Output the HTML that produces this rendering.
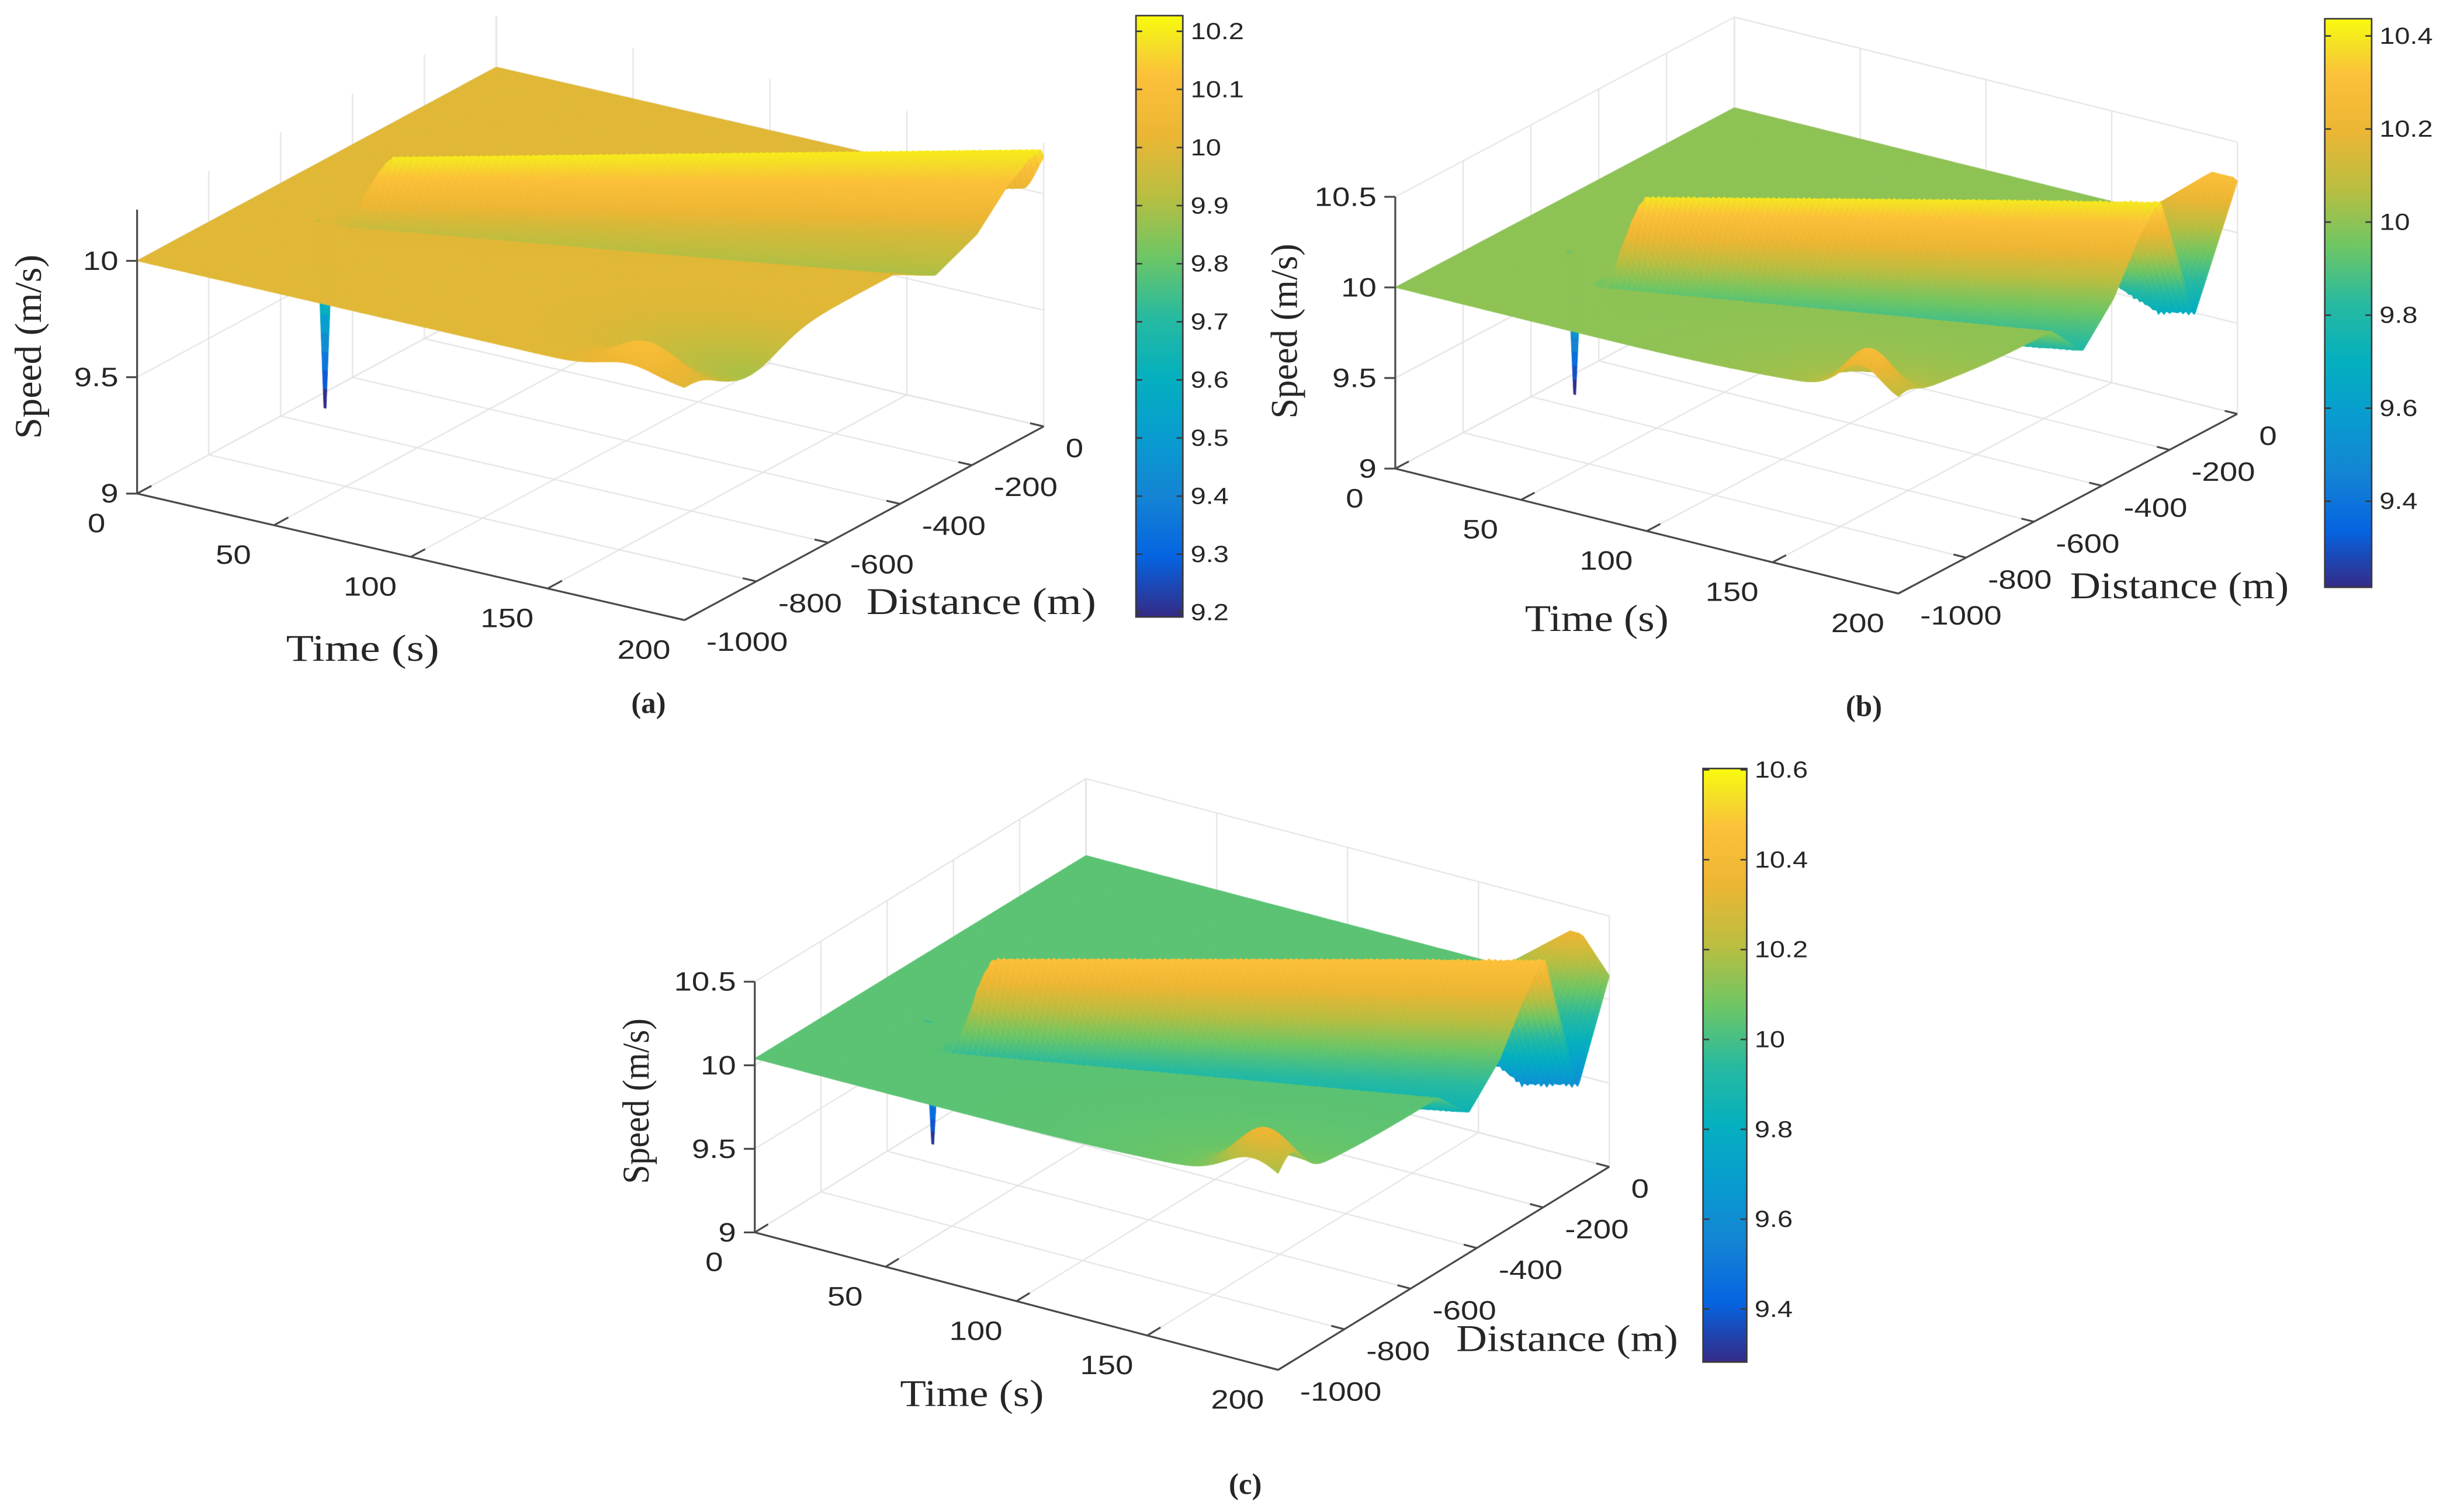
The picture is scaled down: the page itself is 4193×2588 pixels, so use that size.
<!DOCTYPE html>
<html><head><meta charset="utf-8">
<style>
html,body{margin:0;padding:0;background:#fff;}
#wrap{position:relative;width:4193px;height:2588px;overflow:hidden;background:#fff;}
canvas,svg{position:absolute;left:0;top:0;}
text{fill:#262626;}
.tick{font-family:"Liberation Sans",sans-serif;font-size:17px;}
.cbt{font-family:"Liberation Sans",sans-serif;font-size:15px;}
.title{font-family:"Liberation Serif",serif;font-size:24px;}
.cap{font-family:"Liberation Serif",serif;font-size:19px;font-weight:bold;}
</style></head>
<body>
<div id="wrap">
<canvas id="cv" width="4193" height="2588"></canvas>
<svg id="ov" width="4193" height="2588" viewBox="0 0 1568 968" xmlns="http://www.w3.org/2000/svg">
  <g id="static-text">
    <text class="title" x="0" y="0" text-anchor="middle" dominant-baseline="central" transform="translate(18,222) rotate(-90)" textLength="118" lengthAdjust="spacingAndGlyphs">Speed (m/s)</text>
    <text class="title" x="232" y="415" text-anchor="middle" dominant-baseline="central" textLength="98" lengthAdjust="spacingAndGlyphs">Time (s)</text>
    <text class="title" x="628" y="385" text-anchor="middle" dominant-baseline="central" textLength="147" lengthAdjust="spacingAndGlyphs">Distance (m)</text>
    <text class="cap" x="415" y="450" text-anchor="middle" dominant-baseline="central">(a)</text>

    <text class="title" x="0" y="0" text-anchor="middle" dominant-baseline="central" transform="translate(822,212) rotate(-90)" textLength="112" lengthAdjust="spacingAndGlyphs">Speed (m/s)</text>
    <text class="title" x="1022" y="396" text-anchor="middle" dominant-baseline="central" textLength="92" lengthAdjust="spacingAndGlyphs">Time (s)</text>
    <text class="title" x="1395" y="375" text-anchor="middle" dominant-baseline="central" textLength="140" lengthAdjust="spacingAndGlyphs">Distance (m)</text>
    <text class="cap" x="1193" y="452" text-anchor="middle" dominant-baseline="central">(b)</text>

    <text class="title" x="0" y="0" text-anchor="middle" dominant-baseline="central" transform="translate(407,705) rotate(-90)" textLength="106" lengthAdjust="spacingAndGlyphs">Speed (m/s)</text>
    <text class="title" x="622" y="892" text-anchor="middle" dominant-baseline="central" textLength="92" lengthAdjust="spacingAndGlyphs">Time (s)</text>
    <text class="title" x="1003" y="857" text-anchor="middle" dominant-baseline="central" textLength="142" lengthAdjust="spacingAndGlyphs">Distance (m)</text>
    <text class="cap" x="797" y="950" text-anchor="middle" dominant-baseline="central">(c)</text>
  </g>
</svg>
</div>
<script>
// ---------- data ----------
const timeTicks = [0, 50, 100, 150, 200];
const distTicks = [-1000, -800, -600, -400, -200, 0];
const zTicksA = [9, 9.5, 10];
const zTicksBC = [9, 9.5, 10, 10.5];
const cbTicksA = [9.2, 9.3, 9.4, 9.5, 9.6, 9.7, 9.8, 9.9, 10, 10.1, 10.2];
const cbTicksB = [9.4, 9.6, 9.8, 10, 10.2, 10.4];
const cbTicksC = [9.4, 9.6, 9.8, 10, 10.2, 10.4, 10.6];
const climA = [9.192, 10.227];
const climB = [9.215, 10.437];
const climC = [9.282, 10.603];

// surface parameters (per panel a, b, c)
const baseSpeed = [10.0, 10.0, 10.04];
const ridgeStartT = [32, 52, 46];
const ridgeStartD = [-600, -715, -712];
const ridgeSpeed = [3.5, 3.3, 3.36];
const ridgeWidth0 = [80, 70, 70];
const ridgeWidth1 = [290, 230, 230];
const frontS = [-1.4, -1.0, -0.6, -0.3, -0.08, 0];
const frontDZa = [0, -0.1, -0.02, 0.12, 0.19, 0.2];
const frontDZb = [0, -0.2, 0.0, 0.25, 0.38, 0.4];
const frontDZc = [0, -0.2, 0.0, 0.26, 0.42, 0.44];
const behindS = [0, 20, 100, 230, 400];
const behindDZb = [0.4, 0.25, -0.33, 0.3, 0.3];
const behindDZc = [0.44, 0.25, -0.45, 0.31, 0.31];
const behindStartT = [1e9, 165, 160];
const blobTa = [200, 180], blobDa = [-820, -955], blobSTa = [25, 10], blobSDa = [80, 35], blobAmpA = [-0.1, 0.12];
const blobTb = [185, 200], blobDb = [-975, -1000], blobSTb = [8, 40], blobSDb = [30, 150], blobAmpB = [0.22, 0.06];
const blobTc = [190, 200], blobDc = [-960, -1000], blobSTc = [10, 40], blobSDc = [35, 150], blobAmpC = [0.27, 0.05];
const spikeT = [29.6, 31, 31.7];
const spikeD = [-702, -701, -713];
const spikeMin = [9.2, 9.22, 9.31];

// ---------- layout ----------
const panels = [
  {O:[87.6,316], T:[1.752,0.405], D:[0.230,-0.124], Zs:149, zmax:10.22, clim:climA, cb:[727,10,757,395], zt:zTicksA, cbt:cbTicksA, fdz:frontDZa, bdz:null, bt:blobTa, bd:blobDa, bst:blobSTa, bsd:blobSDa, ba:blobAmpA, id:'a'},
  {O:[893,300], T:[1.61,0.40], D:[0.217,-0.115], Zs:116, zmax:10.5, clim:climB, cb:[1488,12,1518,376], zt:zTicksBC, cbt:cbTicksB, fdz:frontDZb, bdz:behindDZb, bt:blobTb, bd:blobDb, bst:blobSTb, bsd:blobSDb, ba:blobAmpB, id:'b'},
  {O:[483,789], T:[1.675,0.44], D:[0.212,-0.13], Zs:107, zmax:10.5, clim:climC, cb:[1090,492,1118,872], zt:zTicksBC, cbt:cbTicksC, fdz:frontDZc, bdz:behindDZc, bt:blobTc, bd:blobDc, bst:blobSTc, bsd:blobSDc, ba:blobAmpC, id:'c'}
];

const PARrgb = [[0,53,42,135],[0.1,5,100,225],[0.2,20,132,212],[0.3,8,156,208],[0.4,5,176,190],[0.5,40,186,160],[0.6,110,198,100],[0.7,185,190,65],[0.8,235,182,52],[0.9,252,192,58],[0.95,245,222,40],[1,249,251,14]];
function clamp(x,a,b){ if(a===undefined){a=0;b=1;} return Math.max(a,Math.min(b,x)); }
function cmap(v, clim){
  const x = clamp((v-clim[0])/(clim[1]-clim[0]));
  for(let i=1;i<PARrgb.length;i++){
    if(x<=PARrgb[i][0]){
      const a=PARrgb[i-1], b=PARrgb[i], f=(x-a[0])/(b[0]-a[0]);
      return 'rgb('+Math.round(a[1]+(b[1]-a[1])*f)+','+Math.round(a[2]+(b[2]-a[2])*f)+','+Math.round(a[3]+(b[3]-a[3])*f)+')';
    }
  }
  return 'rgb(249,251,14)';
}
function interp(xs, ys, x){
  if(x<=xs[0]) return ys[0];
  if(x>=xs[xs.length-1]) return ys[ys.length-1];
  for(let i=1;i<xs.length;i++){ if(x<=xs[i]){ const f=(x-xs[i-1])/(xs[i]-xs[i-1]); return ys[i-1]+(ys[i]-ys[i-1])*f; } }
  return ys[ys.length-1];
}
function P(p,t,d,z){ return [p.O[0]+t*p.T[0]+(d+1000)*p.D[0], p.O[1]+t*p.T[1]+(d+1000)*p.D[1]-(z-9)*p.Zs]; }
function zAt(k,t,d){
  const p=panels[k];
  let z=baseSpeed[k];
  const ts=ridgeStartT[k];
  if(t>=ts){
    const dTop=ridgeStartD[k]+ridgeSpeed[k]*(t-ts);
    const w=ridgeWidth0[k]+(ridgeWidth1[k]-ridgeWidth0[k])*(t-ts)/(200-ts);
    const s=d-dTop, fr=p.fdz, peak=fr[fr.length-1];
    let dz;
    if(s<=0){ const sn=s/w; dz = sn<frontS[0]?0:interp(frontS,fr,sn); }
    else {
      const u=clamp(s/40); const quick=peak*(1-u*u*(3-2*u));
      const f=p.bdz?clamp((t-behindStartT[k])/25):0;
      dz=(1-f)*quick+(f>0?f*interp(behindS,p.bdz,s):0);
    }
    z+=dz*Math.sqrt(clamp((t-ts)/6));
  }
  for(let i=0;i<p.bt.length;i++){
    const a=(t-p.bt[i])/p.bst[i], b=(d-p.bd[i])/p.bsd[i];
    z+=p.ba[i]*Math.exp(-0.5*(a*a+b*b));
  }
  return z;
}

// ---------- canvas ----------
const cv=document.getElementById('cv');
const ctx=cv.getContext('2d');
ctx.setTransform(4193/1568,0,0,2588/968,0,0);
ctx.lineJoin='round';

function cline(a,b){ ctx.beginPath(); ctx.moveTo(a[0],a[1]); ctx.lineTo(b[0],b[1]); ctx.stroke(); }

panels.forEach((p,k)=>{
  ctx.strokeStyle='#e3e3e3'; ctx.lineWidth=0.8;
  distTicks.forEach(d=>{ cline(P(p,0,d,9),P(p,0,d,p.zmax)); cline(P(p,0,d,9),P(p,200,d,9)); });
  timeTicks.forEach(t=>{ cline(P(p,t,0,9),P(p,t,0,p.zmax)); cline(P(p,t,-1000,9),P(p,t,0,9)); });
  p.zt.forEach(z=>{ cline(P(p,0,-1000,z),P(p,0,0,z)); cline(P(p,0,0,z),P(p,200,0,z)); });

  const Nt=120, Nd=220;
  const Z=[];
  for(let i=0;i<=Nt;i++){ Z.push([]); for(let j=0;j<=Nd;j++){ Z[i].push(zAt(k,i*200/Nt,-1000+j*1000/Nd)); } }
  const polys=[];
  for(let i=0;i<Nt;i++){
    for(let j=0;j<Nd;j++){
      const t0=i*200/Nt,t1=(i+1)*200/Nt,d0=-1000+j*1000/Nd,d1=-1000+(j+1)*1000/Nd;
      const zm=(Z[i][j]+Z[i+1][j]+Z[i+1][j+1]+Z[i][j+1])/4;
      const key=P(p,(t0+t1)/2,(d0+d1)/2,9)[1];
      polys.push({key, pts:[P(p,t0,d0,Z[i][j]),P(p,t1,d0,Z[i+1][j]),P(p,t1,d1,Z[i+1][j+1]),P(p,t0,d1,Z[i][j+1])], col:cmap(zm,p.clim)});
    }
  }
  const st=spikeT[k], sd=spikeD[k], zb=zAt(k,st,sd), zmn=spikeMin[k], nseg=10;
  for(let s=0;s<nseg;s++){
    const za=zb-(zb-zmn)*s/nseg, zc=zb-(zb-zmn)*(s+1)/nseg;
    const wa=2.6*(1-s/nseg)+0.4, wc=2.6*(1-(s+1)/nseg)+0.4;
    polys.push({key:P(p,st,sd,9)[1]+0.01*s, pts:[P(p,st-wa,sd,za),P(p,st+wa,sd,za),P(p,st+wc,sd,zc),P(p,st-wc,sd,zc)], col:cmap(zc,p.clim)});
  }
  polys.sort((a,b)=>a.key-b.key);
  ctx.lineWidth=0.4;
  polys.forEach(q=>{
    ctx.beginPath(); ctx.moveTo(q.pts[0][0],q.pts[0][1]);
    for(let m=1;m<4;m++) ctx.lineTo(q.pts[m][0],q.pts[m][1]);
    ctx.closePath(); ctx.fillStyle=q.col; ctx.strokeStyle=q.col; ctx.fill(); ctx.stroke();
  });
});

// ---------- overlay ----------
const NS='http://www.w3.org/2000/svg';
const ov=document.getElementById('ov');
function mk(tag, attrs, parent){ const e=document.createElementNS(NS,tag); for(const a in attrs) e.setAttribute(a,attrs[a]); (parent||ov).appendChild(e); return e; }
function fmt(v){ return (Math.round(v*10)/10).toString(); }

const defs=mk('defs',{});
const grad=mk('linearGradient',{id:'parula',x1:'0',y1:'1',x2:'0',y2:'0'},defs);
PARrgb.forEach(s=>{ mk('stop',{offset:s[0],'stop-color':'rgb('+s[1]+','+s[2]+','+s[3]+')'},grad); });

panels.forEach((p,k)=>{
  const g=mk('g',{});
  
  
  const ax={stroke:'#4a4a4a','stroke-width':1.2,fill:'none'};
  let a=P(p,0,-1000,9), b=P(p,0,-1000,p.zmax);
  let l=mk('line',Object.assign({x1:a[0],y1:a[1],x2:b[0],y2:b[1]},ax),g);
  
  
  b=P(p,200,-1000,9);
  l=mk('line',Object.assign({x1:a[0],y1:a[1],x2:b[0],y2:b[1]},ax),g);
  
  
  a=P(p,200,0,9);
  l=mk('line',Object.assign({x1:b[0],y1:b[1],x2:a[0],y2:a[1]},ax),g);
  
  

  p.zt.forEach(z=>{
    const q=P(p,0,-1000,z);
    mk('line',Object.assign({x1:q[0]-7,y1:q[1],x2:q[0],y2:q[1]},ax),g);
    const t=mk('text',{class:'tick','text-anchor':'end','dominant-baseline':'central',transform:'translate('+(q[0]-12)+','+q[1]+') scale(1.2,1)'},g);
    
    
    t.textContent=fmt(z);
  });
  timeTicks.forEach(tv=>{
    const q=P(p,tv,-1000,9), r=P(p,tv,-960,9);
    mk('line',Object.assign({x1:q[0],y1:q[1],x2:r[0],y2:r[1]},ax),g);
    const t=mk('text',{class:'tick','text-anchor':'middle','dominant-baseline':'central',transform:'translate('+(q[0]-26)+','+(q[1]+19)+') scale(1.2,1)'},g);
    
    
    t.textContent=String(tv);
  });
  distTicks.forEach(dv=>{
    const q=P(p,200,dv,9), r=P(p,195,dv,9);
    mk('line',Object.assign({x1:q[0],y1:q[1],x2:r[0],y2:r[1]},ax),g);
    const t=mk('text',{class:'tick','text-anchor':'start','dominant-baseline':'central',transform:'translate('+(q[0]+14)+','+(q[1]+14)+') scale(1.2,1)'},g);
    
    
    t.textContent=String(dv);
  });

  const cb=p.cb;
  const r=mk('rect',{x:cb[0],y:cb[1],width:cb[2]-cb[0],height:cb[3]-cb[1],fill:'url(#parula)',stroke:'#3a3a3a','stroke-width':1},g);
  
  
  p.cbt.forEach(v=>{
    const y=cb[3]-(v-p.clim[0])/(p.clim[1]-p.clim[0])*(cb[3]-cb[1]);
    mk('line',{x1:cb[2]-4,y1:y,x2:cb[2],y2:y,stroke:'#3a3a3a','stroke-width':1},g);
    mk('line',{x1:cb[0],y1:y,x2:cb[0]+4,y2:y,stroke:'#3a3a3a','stroke-width':1},g);
    const t=mk('text',{class:'cbt','text-anchor':'start','dominant-baseline':'central',transform:'translate('+(cb[2]+5)+','+y+') scale(1.17,1)'},g);
    
    
    t.textContent=fmt(v);
  });
});
</script>
</body></html>
